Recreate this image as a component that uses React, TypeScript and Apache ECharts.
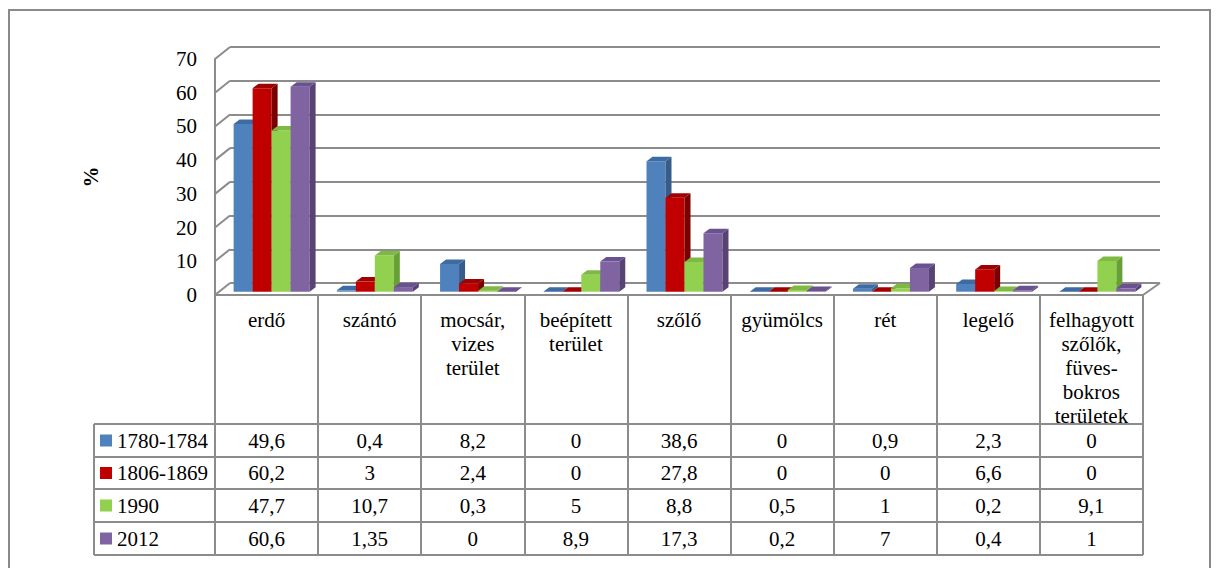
import React, { useEffect, useRef } from "react";
import * as echarts from "echarts";

const categories = [
  "erdő",
  "szántó",
  "mocsár,\nvizes\nterület",
  "beépített\nterület",
  "szőlő",
  "gyümölcs",
  "rét",
  "legelő",
  "felhagyott\nszőlők,\nfüves-\nbokros\nterületek",
];
const periods = ["1780-1784", "1806-1869", "1990", "2012"];
const values1780 = [49.6, 0.4, 8.2, 0, 38.6, 0, 0.9, 2.3, 0];
const values1806 = [60.2, 3, 2.4, 0, 27.8, 0, 0, 6.6, 0];
const values1990 = [47.7, 10.7, 0.3, 5, 8.8, 0.5, 1, 0.2, 9.1];
const values2012 = [60.6, 1.35, 0, 8.9, 17.3, 0.2, 7, 0.4, 1];
const yTicks = [0, 10, 20, 30, 40, 50, 60, 70];

const seriesValues = [values1780, values1806, values1990, values2012];
const frontColors = ["#4F81BD", "#C00000", "#92D050", "#8064A2"];
const topColors = ["#3F6BA3", "#A20000", "#7DB943", "#6A5190"];
const sideColors = ["#375C8A", "#7A0000", "#67A034", "#574374"];

const FONT = "Liberation Serif";
const GRAY = "#8c8c8c";

// layout constants
const FRONT_LEFT = 215;
const FRONT_RIGHT = 1143;
const BACK_LEFT = 230;
const BACK_RIGHT = 1160;
const FLOOR_FRONT_Y = 295;
const BACK_TOP = 47;
const BACK_H = 236;
const DEPTH_X = BACK_LEFT - FRONT_LEFT;
const DEPTH_Y = 12;
const ROW_LINES = [424, 457, 489, 522, 555];
const LEGEND_LEFT = 94;

const fmt = (v: number) => String(v).replace(".", ",");

export default function App() {
  const ref = useRef<HTMLDivElement>(null);
  useEffect(() => {
    if (!ref.current) return;
    const chart = echarts.init(ref.current, undefined, { renderer: "svg" });
    const colW = (FRONT_RIGHT - FRONT_LEFT) / categories.length;

    const graphics: any[] = [];
    graphics.push({
      type: "rect",
      shape: { x: 9, y: 10, width: 1201, height: 600 },
      style: { fill: "none", stroke: "#8a8a8a", lineWidth: 2 },
      z: 0,
    });
    graphics.push({
      type: "line",
      shape: { x1: BACK_RIGHT, y1: FLOOR_FRONT_Y - DEPTH_Y, x2: FRONT_RIGHT, y2: FLOOR_FRONT_Y },
      style: { stroke: GRAY, lineWidth: 2 },
      z: 1,
    });
    ROW_LINES.forEach((y) => {
      graphics.push({
        type: "line",
        shape: { x1: LEGEND_LEFT, y1: y, x2: FRONT_RIGHT, y2: y },
        style: { stroke: GRAY, lineWidth: 2 },
        z: 1,
      });
    });
    graphics.push({
      type: "line",
      shape: { x1: LEGEND_LEFT, y1: ROW_LINES[0], x2: LEGEND_LEFT, y2: ROW_LINES[ROW_LINES.length - 1] },
      style: { stroke: GRAY, lineWidth: 2 },
      z: 1,
    });
    periods.forEach((p, r) => {
      const cy = (ROW_LINES[r] + ROW_LINES[r + 1]) / 2;
      graphics.push({
        type: "rect",
        shape: { x: 100, y: cy - 6, width: 12, height: 12 },
        style: { fill: frontColors[r] },
        z: 2,
      });
      graphics.push({
        type: "text",
        x: 117,
        y: cy,
        style: {
          text: p,
          fontSize: 21,
          fontFamily: FONT,
          fill: "#000",
          align: "left",
          verticalAlign: "middle",
        },
        z: 2,
      });
      seriesValues[r].forEach((v, i) => {
        graphics.push({
          type: "text",
          x: FRONT_LEFT + (i + 0.5) * colW,
          y: cy,
          style: {
            text: fmt(v),
            fontSize: 21,
            fontFamily: FONT,
            fill: "#000",
            align: "center",
            verticalAlign: "middle",
          },
          z: 2,
        });
      });
    });

    const dx = 6;
    const dy = 4.5;
    const barSeries = seriesValues.map((vals, k) => ({
      type: "custom",
      name: periods[k],
      xAxisIndex: 2,
      yAxisIndex: 2,
      z: 5 + k,
      data: vals.map((v, i) => [i, v]),
      encode: { x: 0, y: 1 },
      renderItem: (params: any, api: any) => {
        const ci = api.value(0);
        const v = api.value(1);
        const [cx, y] = api.coord([ci, v]);
        const y0 = api.coord([ci, 0])[1];
        const band = api.size([1, 0])[0];
        const bw = band * 0.184;
        const x = cx + (k - 2) * bw;
        return {
          type: "group",
          children: [
            {
              type: "rect",
              shape: { x, y, width: bw, height: y0 - y },
              style: { fill: frontColors[k] },
            },
            {
              type: "polygon",
              shape: {
                points: [
                  [x + bw, y],
                  [x + bw + dx, y - dy],
                  [x + bw + dx, y0 - dy],
                  [x + bw, y0],
                ],
              },
              style: { fill: sideColors[k] },
            },
            {
              type: "polygon",
              shape: {
                points: [
                  [x, y],
                  [x + dx, y - dy],
                  [x + bw + dx, y - dy],
                  [x + bw, y],
                ],
              },
              style: { fill: topColors[k] },
            },
          ],
        };
      },
    }));

    const wallSeries = {
      type: "custom",
      xAxisIndex: 0,
      yAxisIndex: 0,
      z: 1,
      data: yTicks.map((t) => [0, t]),
      encode: { x: 0, y: 1 },
      renderItem: (params: any, api: any) => {
        const y = api.coord([0, api.value(1)])[1];
        const xb = params.coordSys.x;
        return {
          type: "line",
          shape: { x1: xb - DEPTH_X, y1: y + DEPTH_Y, x2: xb, y2: y },
          style: { stroke: GRAY, lineWidth: 2 },
        };
      },
    };

    const option: any = {
      animation: false,
      backgroundColor: "#fff",
      textStyle: { fontFamily: FONT },
      grid: [
        { left: BACK_LEFT, top: BACK_TOP, width: BACK_RIGHT - BACK_LEFT, height: BACK_H },
        { left: FRONT_LEFT, top: BACK_TOP + DEPTH_Y, width: FRONT_RIGHT - FRONT_LEFT, height: BACK_H },
        { left: 220, top: 55, width: 929, height: 236.7 },
      ],
      xAxis: [
        {
          gridIndex: 0,
          type: "category",
          data: categories,
          axisLine: { show: false },
          axisTick: { show: false },
          axisLabel: { show: false },
        },
        {
          gridIndex: 1,
          type: "category",
          data: categories,
          boundaryGap: true,
          axisLine: { show: true, lineStyle: { color: GRAY, width: 2 } },
          axisTick: {
            show: true,
            interval: 0,
            length: ROW_LINES[ROW_LINES.length - 1] - FLOOR_FRONT_Y,
            lineStyle: { color: GRAY, width: 2 },
          },
          axisLabel: {
            interval: 0,
            margin: 13,
            fontSize: 21,
            lineHeight: 24,
            color: "#000",
            fontFamily: FONT,
            verticalAlign: "top",
            align: "center",
          },
        },
        { gridIndex: 2, type: "category", data: categories, show: false },
      ],
      yAxis: [
        {
          gridIndex: 0,
          type: "value",
          min: 0,
          max: 70,
          interval: 10,
          axisLine: { show: false },
          axisTick: { show: false },
          axisLabel: { show: false },
          splitLine: { show: true, lineStyle: { color: GRAY, width: 2 } },
        },
        {
          gridIndex: 1,
          type: "value",
          min: 0,
          max: 70,
          interval: 10,
          name: "%",
          nameLocation: "middle",
          nameRotate: 90,
          nameGap: 114,
          nameTextStyle: { fontSize: 21, fontWeight: "bold", color: "#000", fontFamily: FONT },
          axisLine: { show: true, lineStyle: { color: GRAY, width: 2 } },
          axisTick: { show: false },
          splitLine: { show: false },
          axisLabel: {
            margin: 18,
            fontSize: 21,
            color: "#000",
            fontFamily: FONT,
            padding: [5, 0, 0, 0],
          },
        },
        { gridIndex: 2, type: "value", min: 0, max: 70, interval: 10, show: false },
      ],
      graphic: graphics,
      series: [wallSeries, ...barSeries],
    };
    chart.setOption(option);
    return () => chart.dispose();
  }, []);
  return (
    <div
      ref={ref}
      style={{ position: "fixed", left: 0, top: 0, width: 1218, height: 568, background: "#fff" }}
    />
  );
}
